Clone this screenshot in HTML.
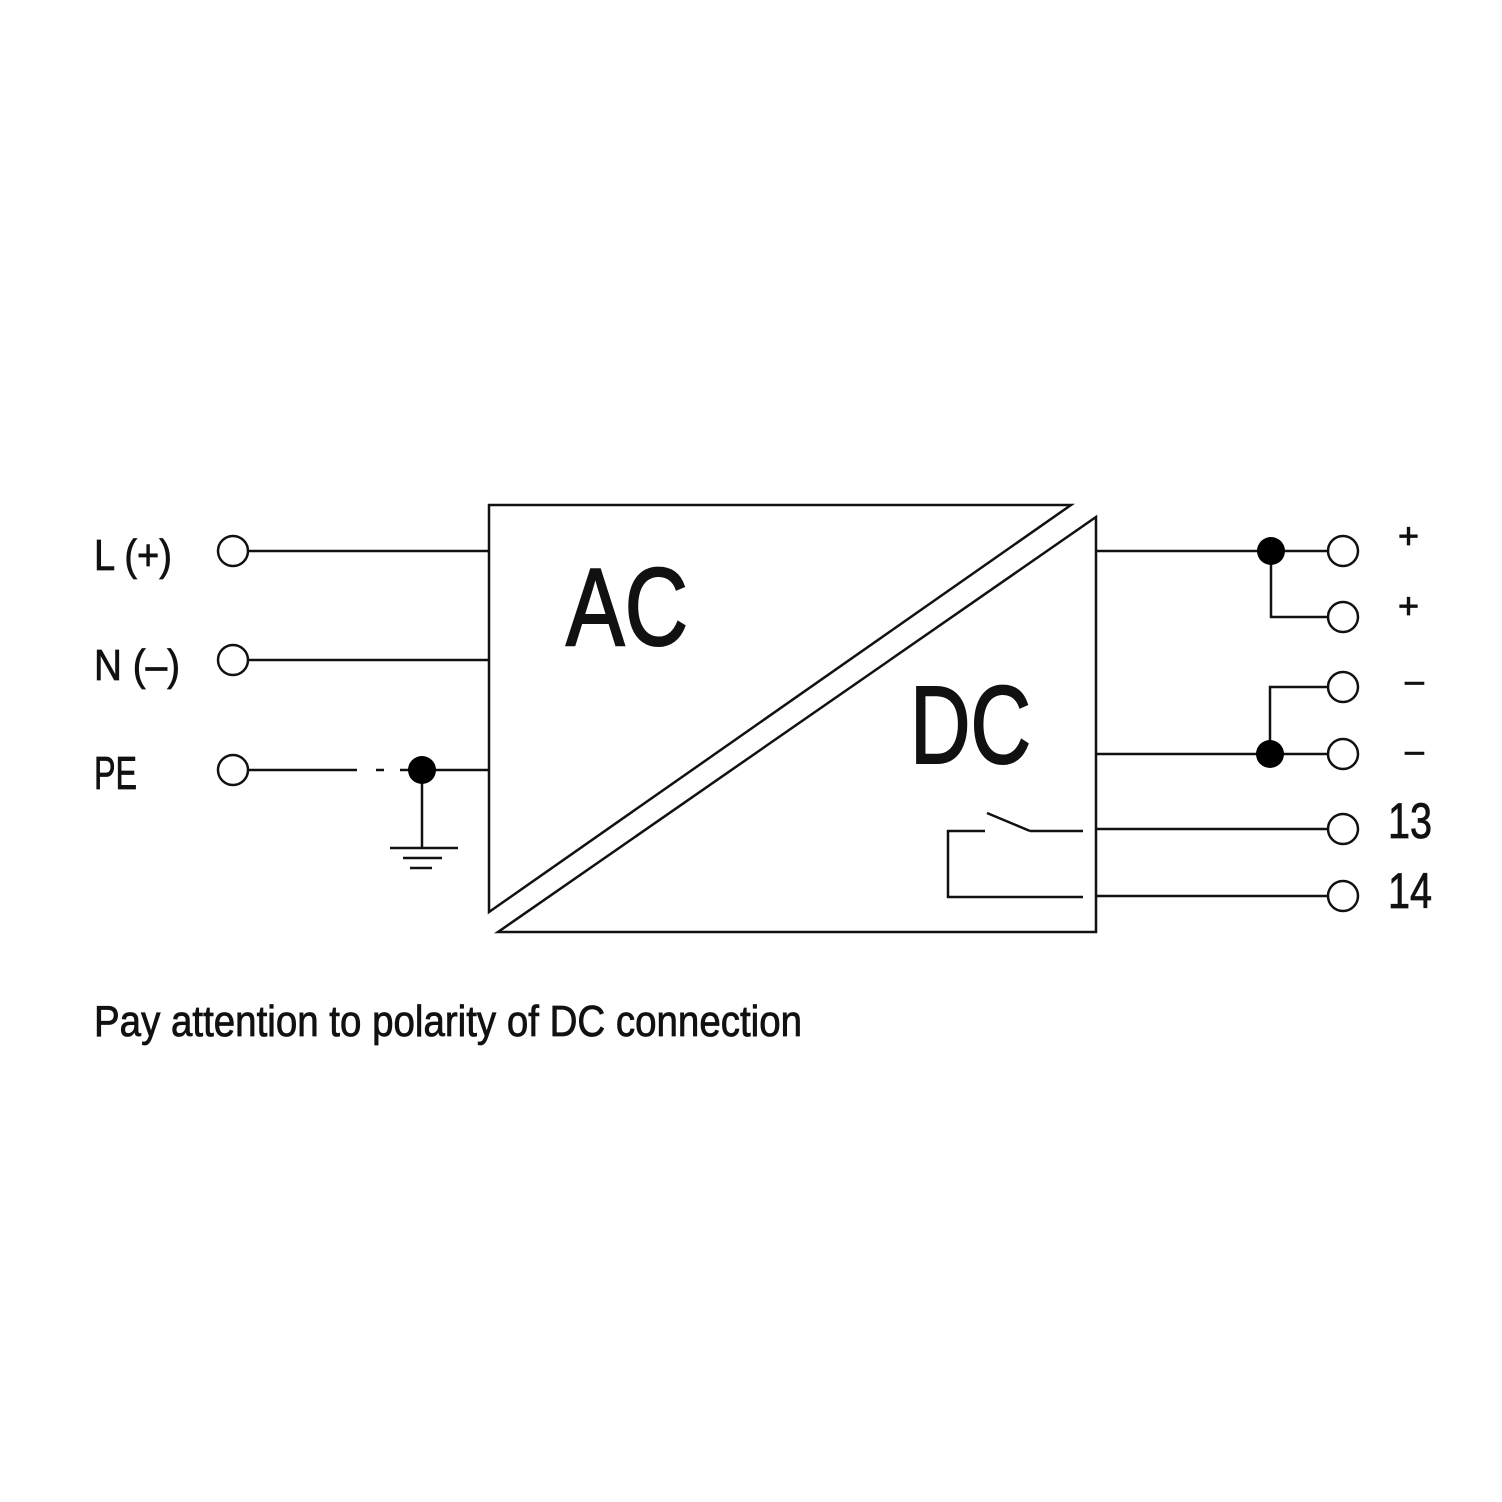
<!DOCTYPE html>
<html><head><meta charset="utf-8"><style>html,body{margin:0;padding:0;background:#fff}svg{display:block}</style></head>
<body>
<svg width="1502" height="1502" viewBox="0 0 1502 1502" xmlns="http://www.w3.org/2000/svg">
<rect width="1502" height="1502" fill="#fff"/>
<g stroke="#111" stroke-width="2.5" fill="none">
<polygon points="489,505 1071,505 489,912"/>
<polygon points="1096,517 1096,932 498,932"/>
<line x1="248" y1="551" x2="489" y2="551"/>
<line x1="248" y1="660" x2="489" y2="660"/>
<line x1="248" y1="770" x2="357" y2="770"/>
<line x1="376" y1="770" x2="384" y2="770"/>
<line x1="400" y1="770" x2="489" y2="770"/>
<line x1="422" y1="770" x2="422" y2="848"/>
<line x1="390" y1="848" x2="458" y2="848"/>
<line x1="403" y1="858" x2="442" y2="858"/>
<line x1="410" y1="868" x2="432" y2="868"/>
<circle cx="233" cy="551" r="15"/>
<circle cx="233" cy="660" r="15"/>
<circle cx="233" cy="770" r="15"/>
<line x1="1096" y1="551" x2="1328" y2="551"/>
<polyline points="1271,551 1271,617 1328,617"/>
<polyline points="1328,687 1270,687 1270,754"/>
<line x1="1096" y1="754" x2="1328" y2="754"/>
<line x1="1096" y1="829" x2="1328" y2="829"/>
<line x1="1096" y1="896" x2="1328" y2="896"/>
<circle cx="1343" cy="551" r="15"/>
<circle cx="1343" cy="617" r="15"/>
<circle cx="1343" cy="687" r="15"/>
<circle cx="1343" cy="754" r="15"/>
<circle cx="1343" cy="829" r="15"/>
<circle cx="1343" cy="896" r="15"/>
<polyline points="985,831 948,831 948,897 1083,897"/>
<line x1="987" y1="813" x2="1030" y2="831"/>
<line x1="1030" y1="831" x2="1083" y2="831"/>
</g>
<g fill="#000">
<circle cx="422" cy="770" r="14"/>
<circle cx="1271" cy="551" r="14"/>
<circle cx="1270" cy="754" r="14"/>
</g>
<g font-family="Liberation Sans, sans-serif" fill="#111" stroke="#111" stroke-width="0.8">
<text x="94" y="570" font-size="44" textLength="78" lengthAdjust="spacingAndGlyphs">L (+)</text>
<text x="94" y="680" font-size="44" textLength="86" lengthAdjust="spacingAndGlyphs">N (–)</text>
<text x="94" y="789" font-size="46" textLength="43" lengthAdjust="spacingAndGlyphs">PE</text>
<text x="566" y="645" font-size="110" textLength="122" lengthAdjust="spacingAndGlyphs" stroke-width="2">AC</text>
<text x="910" y="763" font-size="110" textLength="121" lengthAdjust="spacingAndGlyphs" stroke-width="2">DC</text>
<text x="1398" y="548" font-size="36">+</text>
<text x="1398" y="618" font-size="36">+</text>
<text x="1405" y="692" font-size="34">–</text>
<text x="1405" y="762" font-size="34">–</text>
<text x="1388" y="838" font-size="50" textLength="44" lengthAdjust="spacingAndGlyphs">13</text>
<text x="1388" y="908" font-size="50" textLength="44" lengthAdjust="spacingAndGlyphs">14</text>
<text x="94" y="1036" font-size="44" textLength="708" lengthAdjust="spacingAndGlyphs">Pay attention to polarity of DC connection</text>
</g>
</svg>
</body></html>
